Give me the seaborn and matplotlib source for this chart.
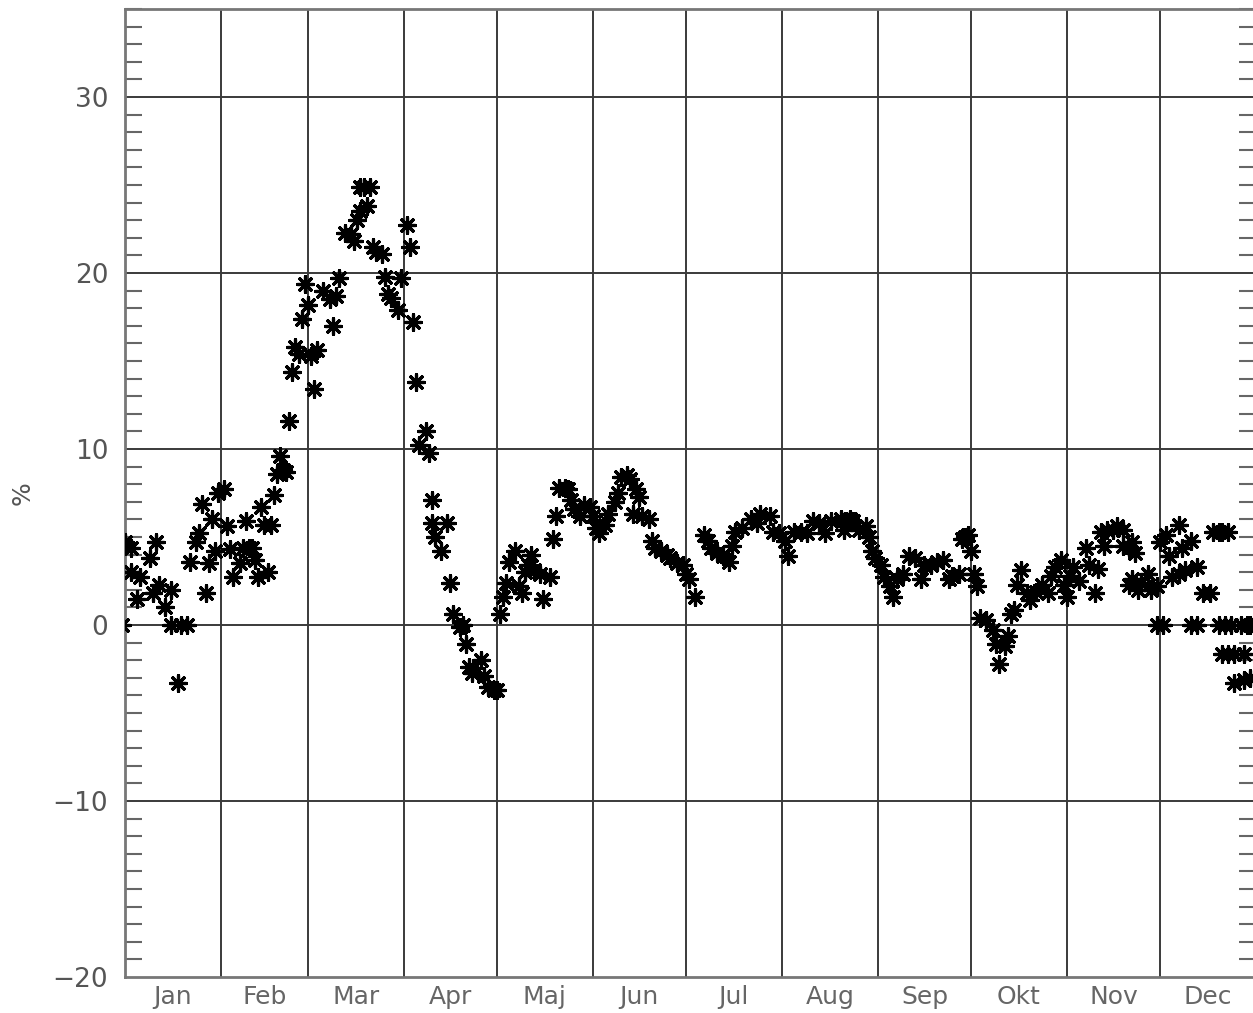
import numpy as np
import pandas as pd
import matplotlib

matplotlib.use('Agg')
import matplotlib.pyplot as plt
import seaborn as sns

# --- dane: dzień roku (0 = 1 stycznia) i wartość w % ---
days = [-1, 0, 2, 2, 4, 5, 8, 9, 10, 11, 13, 15, 15, 17, 18, 20, 21, 23, 24, 25,
        26, 27, 28, 29, 30, 32, 33, 34, 35, 37, 38, 39, 40, 41, 42, 43, 44, 45, 46, 47,
        48, 49, 50, 51, 52, 53, 54, 55, 56, 57, 58, 59, 60, 61, 62, 64, 66, 67, 68, 69,
        71, 73, 74, 75, 76, 76, 77, 78, 79, 80, 81, 83, 84, 85, 86, 88, 89, 91, 92, 93,
        94, 95, 97, 98, 99, 99, 100, 102, 104, 105, 106, 108, 109, 110, 111, 112, 115, 116, 117, 119,
        120, 121, 122, 123, 124, 126, 127, 128, 129, 130, 131, 132, 134, 135, 137, 138, 139, 140, 142, 143,
        144, 145, 147, 148, 150, 151, 152, 153, 155, 156, 158, 159, 160, 162, 163, 164, 165, 166, 167, 169,
        170, 171, 173, 175, 176, 178, 180, 181, 182, 184, 187, 188, 189, 191, 193, 195, 196, 197, 199, 202,
        204, 205, 208, 209, 211, 213, 214, 216, 218, 220, 222, 224, 226, 228, 231, 232, 234, 235, 237, 239,
        240, 241, 242, 244, 245, 247, 248, 249, 251, 253, 255, 257, 258, 260, 262, 264, 266, 267, 269, 270,
        271, 272, 273, 274, 275, 276, 278, 280, 281, 282, 284, 285, 286, 287, 288, 289, 291, 292, 294, 296,
        298, 299, 300, 302, 303, 304, 305, 306, 308, 310, 311, 313, 314, 315, 316, 317, 319, 320, 322, 322,
        324, 324, 325, 325, 326, 327, 328, 330, 331, 333, 333, 334, 335, 336, 337, 338, 340, 340, 341, 342,
        344, 344, 346, 346, 348, 350, 351, 353, 353, 354, 354, 355, 356, 356, 357, 358, 358, 360, 361, 361,
        362, 363, 363]
pct = [0.0, 4.7, 4.4, 3.0, 1.5, 2.7, 3.8, 1.8, 4.7, 2.3, 1.0, 0.0, 2.0, -3.3, 0.0, 0.0, 3.6, 4.7, 5.2, 6.9,
       1.8, 3.5, 6.0, 4.2, 7.5, 7.7, 5.6, 4.3, 2.7, 3.5, 4.4, 5.9, 4.4, 4.4, 3.7, 2.7, 6.7, 5.7, 3.0, 5.7,
       7.4, 8.6, 9.6, 8.8, 8.7, 11.6, 14.4, 15.8, 15.4, 17.4, 19.4, 18.2, 15.3, 13.4, 15.6, 19.0, 18.5, 17.0, 18.7, 19.7,
       22.3, 22.2, 21.8, 23.0, 24.9, 23.5, 24.9, 23.8, 24.9, 21.5, 21.2, 21.1, 19.8, 18.8, 18.6, 17.9, 19.7, 22.7, 21.5, 17.2,
       13.8, 10.2, 11.0, 9.8, 7.1, 5.8, 5.0, 4.2, 5.8, 2.4, 0.6, -0.1, 0.0, -1.1, -2.4, -2.7, -2.0, -2.9, -3.5, -3.7,
       -3.7, 0.6, 1.6, 2.4, 3.6, 4.2, 2.2, 1.8, 3.0, 3.4, 4.0, 3.1, 2.9, 1.5, 2.7, 4.9, 6.2, 7.8, 7.8, 7.7,
       7.1, 6.6, 6.2, 6.8, 6.7, 6.2, 5.5, 5.2, 5.7, 6.3, 7.0, 7.5, 8.4, 8.5, 8.3, 6.3, 7.7, 7.3, 6.2, 6.0,
       4.8, 4.4, 4.2, 4.0, 3.8, 3.5, 3.4, 2.9, 2.6, 1.6, 5.1, 4.8, 4.4, 4.1, 3.9, 3.6, 4.5, 5.3, 5.5, 6.0,
       5.8, 6.3, 6.2, 5.3, 5.2, 4.8, 3.9, 5.3, 5.3, 5.2, 5.9, 5.8, 5.2, 5.9, 6.0, 5.4, 6.0, 5.9, 5.4, 5.6,
       5.0, 4.2, 3.8, 3.4, 2.7, 2.2, 1.6, 2.6, 2.9, 3.9, 3.8, 2.6, 3.4, 3.4, 3.6, 3.7, 2.6, 2.8, 2.9, 4.9,
       5.0, 5.1, 4.2, 2.9, 2.2, 0.4, 0.3, -0.3, -1.1, -2.2, -1.2, -0.6, 0.6, 0.85, 2.3, 3.1, 1.8, 1.4, 1.9, 2.3,
       1.8, 2.8, 3.3, 3.7, 2.3, 1.6, 2.8, 3.3, 2.5, 4.4, 3.4, 1.8, 3.2, 5.3, 4.5, 5.4, 5.4, 5.6, 5.4, 4.5,
       4.4, 2.3, 4.7, 2.6, 4.1, 2.0, 2.4, 2.9, 2.0, 2.2, 0.0, 4.7, 0.0, 5.1, 3.9, 2.7, 5.7, 2.9, 4.4, 3.1,
       0.0, 4.8, 0.0, 3.3, 1.8, 1.8, 5.3, 5.3, 0.0, 5.3, -1.65, 0.0, 5.3, -1.65, 0.0, -1.65, -3.3, 0.0, -1.65, -3.1,
       0.0, -3.0, 0.0]

month_names = ['Jan', 'Feb', 'Mar', 'Apr', 'Maj', 'Jun', 'Jul', 'Aug', 'Sep', 'Okt', 'Nov', 'Dec']
month_len = [31, 28, 31, 30, 31, 30, 31, 31, 30, 31, 30, 31]

df = pd.DataFrame({'dzien': days, 'procent': pct})
month_start = np.concatenate([[0], np.cumsum(month_len)])
month_mid = month_start[:-1] + np.array(month_len) / 2

sns.set_style('white')
plt.rcParams['font.family'] = ['DejaVu Sans']

fig = plt.figure(figsize=(12.53, 10.13), dpi=100)
ax = fig.add_axes([125 / 1253, 36 / 1013, 1131 / 1253, 968 / 1013])

grid_col = '#3a3a3a'
for d in month_start[1:-1]:
    ax.axvline(d, color=grid_col, lw=1.4, zorder=1)
for v in [-10, 0, 10, 20, 30]:
    ax.axhline(v, color=grid_col, lw=1.4, zorder=1)

sns.scatterplot(data=df, x='dzien', y='procent', ax=ax, marker=(8, 2, 0),
                color='black', s=130, linewidth=2.3, zorder=3, legend=False)

ax.set_xlim(0, 365)
ax.set_ylim(-20, 35)

# os X: nazwy miesięcy pośrodku
ax.set_xticks(month_start[1:-1])
ax.set_xticklabels([])
ax.set_xticks(month_mid, minor=True)
ax.set_xticklabels(month_names, minor=True)
ax.tick_params(axis='x', which='both', length=0, pad=6, labelsize=18, labelcolor='#666666')

# os Y
ax.set_yticks([-20, -10, 0, 10, 20, 30])
ax.set_yticks(np.arange(-20, 36, 1), minor=True)
ax.tick_params(axis='y', which='major', length=0, pad=12, labelsize=19, labelcolor='#555555')
ax.tick_params(axis='y', which='minor', direction='in', length=12, width=1.5,
               color='#666666', left=True, right=True)
ax.yaxis.set_major_formatter(matplotlib.ticker.FuncFormatter(lambda v, p: f'{int(v)}'.replace('-', '\u2212')))

for s in ax.spines.values():
    s.set_color('#777777')
    s.set_linewidth(2)

ax.set_xlabel('')
ax.set_ylabel('%', fontsize=18, color='#555555')
ax.yaxis.set_label_coords(-0.08, 0.5)

fig.savefig('out.png', dpi=100)
plt.close()
